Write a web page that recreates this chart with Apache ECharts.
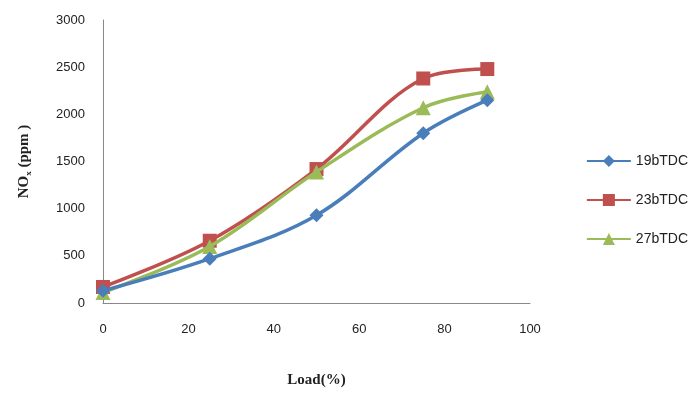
<!DOCTYPE html>
<html><head><meta charset="utf-8">
<script src="https://cdn.jsdelivr.net/npm/echarts@6/dist/echarts.min.js"></script>
<style>html,body{margin:0;padding:0;background:#fff}#c{width:697px;height:397px}</style>
</head><body><div id="c"></div>
<script>
const loads = [0, 25, 50, 75, 90];
const s19 = [130, 470, 930, 1800, 2150];
const s23 = [170, 660, 1420, 2380, 2480];
const s27 = [110, 600, 1390, 2070, 2240];
const names = ['19bTDC', '23bTDC', '27bTDC'];
const xTicks = [0, 20, 40, 60, 80, 100];
const yTicks = [0, 500, 1000, 1500, 2000, 2500, 3000];

const chart = echarts.init(document.getElementById('c'), null, {renderer: 'canvas'});
function pts(v) { return loads.map((x, i) => [x, v[i]]); }
const colors = ['#4A7EBB', '#C0504D', '#9BBB59'];
const symbols = ['diamond', 'rect', 'triangle'];
const sizes = [14, 14, 15];
const data = [s19, s23, s27];
chart.setOption({
  animation: false,
  grid: {left: 103, right: 167, top: 20, bottom: 94},
  legend: {
    orient: 'vertical', right: 4, top: 149, itemGap: 25,
    itemWidth: 44, itemHeight: 15,
    textStyle: {fontFamily: 'Liberation Sans', fontSize: 14, color: '#222'},
    data: names
  },
  xAxis: {
    type: 'value', min: 0, max: 100, interval: 20,
    name: 'Load(%)', nameLocation: 'middle', nameGap: 70,
    nameTextStyle: {fontFamily: 'Liberation Serif', fontWeight: 'bold', fontSize: 15, color: '#222'},
    axisLine: {show: true, lineStyle: {color: '#888', width: 1}},
    axisTick: {show: false},
    splitLine: {show: false},
    axisLabel: {margin: 20, fontFamily: 'Liberation Sans', fontSize: 13, color: '#222',
      formatter: v => xTicks.includes(v) ? String(v) : ''}
  },
  yAxis: {
    type: 'value', min: 0, max: 3000, interval: 500,
    name: 'NO{sub|x} (ppm )', nameLocation: 'middle', nameGap: 70, nameRotate: 90,
    nameTextStyle: {fontFamily: 'Liberation Serif', fontWeight: 'bold', fontSize: 15, color: '#222',
      rich: {sub: {fontFamily: 'Liberation Serif', fontWeight: 'bold', fontSize: 9, color: '#222', padding: [8, 0, 0, 0]}}},
    axisLine: {show: true, lineStyle: {color: '#888', width: 1}},
    axisTick: {show: false},
    splitLine: {show: false},
    axisLabel: {margin: 18, fontFamily: 'Liberation Sans', fontSize: 13, color: '#222',
      formatter: v => yTicks.includes(v) ? String(v) : ''}
  },
  series: names.map((n, i) => ({
    name: n, type: 'line', smooth: 0.35,
    data: pts(data[i]),
    symbol: symbols[i], symbolSize: sizes[i],
    lineStyle: {color: colors[i], width: 3.5},
    itemStyle: {color: colors[i]},
    z: i === 0 ? 4 : (i === 2 ? 3 : 2)
  }))
});
</script></body></html>
